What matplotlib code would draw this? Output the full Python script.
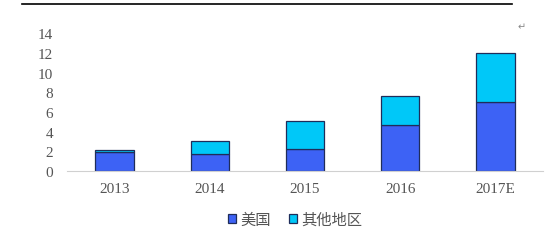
import matplotlib.pyplot as plt
import numpy as np

# 数据（单位未标注）
years = ['2013', '2014', '2015', '2016', '2017E']
usa = [1.9, 1.7, 2.2, 4.65, 7.0]
other = [0.28, 1.4, 2.85, 2.95, 5.0]
labels = ['美国', '其他地区']

plt.rcParams['font.family'] = ['Liberation Serif', 'Noto Sans CJK SC']

fig = plt.figure(figsize=(5.57, 2.53), dpi=100)
ax = fig.add_axes([0.12, 0.32, 0.855, 0.545])

x = np.arange(len(years))
edge = '#1f2d5a'
b1 = ax.bar(x, usa, width=0.4, color='#3d62f5', edgecolor=edge, linewidth=0.9, label=labels[0])
b2 = ax.bar(x, other, width=0.4, bottom=usa, color='#00c8f8', edgecolor=edge, linewidth=0.9, label=labels[1])

ax.set_xlim(-0.5, 4.5)
ax.set_ylim(0, 14)
ax.set_yticks(range(0, 15, 2))
ax.set_xticks(x)
ax.set_xticklabels(years)
for s in ['top', 'right', 'left']:
    ax.spines[s].set_visible(False)
ax.spines['bottom'].set_color('#d0d0d0')
ax.tick_params(axis='both', length=0, colors='#555555', labelsize=11)
ax.tick_params(axis='y', pad=10)
ax.tick_params(axis='x', pad=8)

leg = fig.legend(handles=[b1, b2], loc='center', bbox_to_anchor=(0.53, 0.13), ncol=2,
                 frameon=False, handlelength=0.5, handleheight=0.5, handletextpad=0.3,
                 columnspacing=1.2, prop={'family': ['Noto Sans CJK SC'], 'size': 11})
for t in leg.get_texts():
    t.set_color('#555555')

# 顶部分隔线
fig.add_artist(plt.Line2D([0.04, 0.92], [0.98, 0.98], color='black', lw=1.2))
fig.text(0.93, 0.88, '↵', fontsize=7, color='#888888', family=['DejaVu Sans'])

fig.savefig('out.png', dpi=100)
